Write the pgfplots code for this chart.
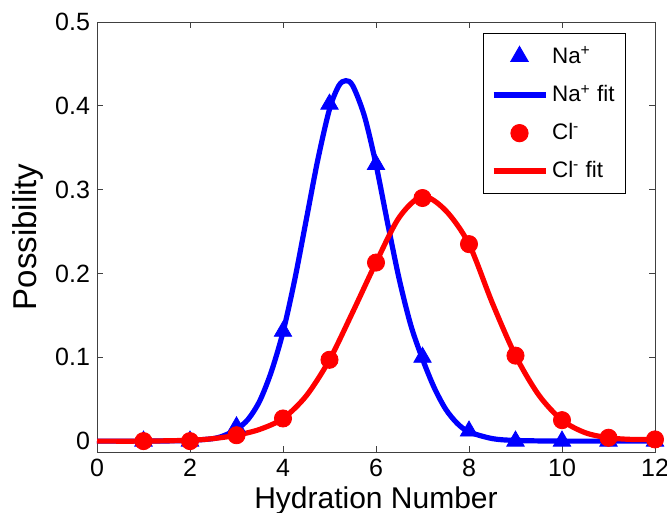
\documentclass[border=0pt]{standalone}
\usepackage{fontspec}
\setmainfont{Liberation Sans}
\usepackage{pgfplots}
\pgfplotsset{compat=1.18}

\definecolor{nablue}{RGB}{0,0,255}
\definecolor{clred}{RGB}{255,0,0}

\begin{document}
\begin{tikzpicture}
\begin{axis}[
    width=279bp, height=215bp,
    scale only axis,
    xmin=0, xmax=12,
    ymin=-0.013, ymax=0.5,
    xtick={0,2,...,12},
    ytick={0,0.1,...,0.5},
    yticklabels={0,0.1,0.2,0.3,0.4,0.5},
    tick align=inside,
    major tick length=3bp,
    axis line style={black!75, line width=0.5pt},
    every tick/.style={black!75, line width=0.5pt},
    /pgf/number format/assume math mode=true,
    tick label style={font=\fontsize{12.5bp}{15bp}\selectfont},
    xlabel={Hydration Number},
    ylabel={Possibility},
    every axis x label/.style={at={(axis description cs:0.5,0)}, anchor=center, yshift=-24.5bp,
        font=\fontsize{15bp}{18bp}\selectfont},
    every axis y label/.style={at={(axis description cs:0,0.5)}, anchor=center, xshift=-34.5bp,
        rotate=90, font=\fontsize{16.5bp}{19bp}\selectfont},
    clip=false,
    legend style={at={(axis description cs:1,1)}, anchor=north east,
        xshift=-14.5bp, yshift=-5.5bp,
        draw=black, line width=0.5pt,
        font=\fontsize{11.2bp}{13bp}\selectfont,
        row sep=5.3bp, inner xsep=3.5bp, inner ysep=4.5bp,
        cells={anchor=west}},
    legend image code/.code={
        \draw[#1, mark repeat=2, mark phase=2] plot coordinates {(0bp,0bp) (13bp,0bp) (26bp,0bp)};
    },
]

% Na+ data
\addplot[only marks, mark=triangle*, mark size=5bp, color=nablue] coordinates {
    (1,0) (2,0) (3,0.017) (4,0.131) (5,0.402) (6,0.330)
    (7,0.100) (8,0.012) (9,0) (10,0) (11,0) (12,0)
};
\addlegendentry{Na\textsuperscript{+}}

% Na+ fit
\addplot[smooth, line width=2.6bp, color=nablue, mark=none] coordinates {
    (0,0) (1,0) (1.5,0.0002) (2,0.0008) (2.5,0.003) (2.75,0.007) (3,0.014)
    (3.25,0.026) (3.5,0.048) (3.75,0.083) (4,0.130) (4.25,0.192) (4.5,0.264)
    (4.75,0.336) (5,0.396) (5.2,0.424) (5.35,0.430) (5.5,0.424) (5.75,0.388)
    (6,0.330) (6.25,0.260) (6.5,0.193) (6.75,0.138) (7,0.098) (7.25,0.064)
    (7.5,0.038) (7.75,0.021) (8,0.011) (8.5,0.003) (9,0.0008) (10,0) (12,0)
};
\addlegendentry{Na\textsuperscript{+} fit}

% Cl- data
\addplot[only marks, mark=*, mark size=4.3bp, color=clred] coordinates {
    (1,0) (2,0) (3,0.007) (4,0.027) (5,0.097) (6,0.213)
    (7,0.290) (8,0.235) (9,0.102) (10,0.025) (11,0.004) (12,0.002)
};
\addlegendentry{Cl\textsuperscript{-}}

% Cl- fit
\addplot[smooth, line width=2.6bp, color=clred, mark=none] coordinates {
    (0,0) (1,0) (2,0.001) (2.5,0.003) (3,0.007) (3.5,0.014) (4,0.027)
    (4.5,0.054) (5,0.097) (5.5,0.154) (6,0.213) (6.5,0.267) (7,0.292)
    (7.5,0.275) (8,0.235) (8.5,0.165) (9,0.102) (9.5,0.055) (10,0.025)
    (10.5,0.010) (11,0.004) (11.5,0.002) (12,0.002)
};
\addlegendentry{Cl\textsuperscript{-} fit}

\end{axis}
\pgfresetboundingbox
\path ([shift={(-48.5bp,-30.5bp)}]current axis.south west)
    rectangle ([shift={(6bp,11bp)}]current axis.north east);
\end{tikzpicture}
\end{document}
